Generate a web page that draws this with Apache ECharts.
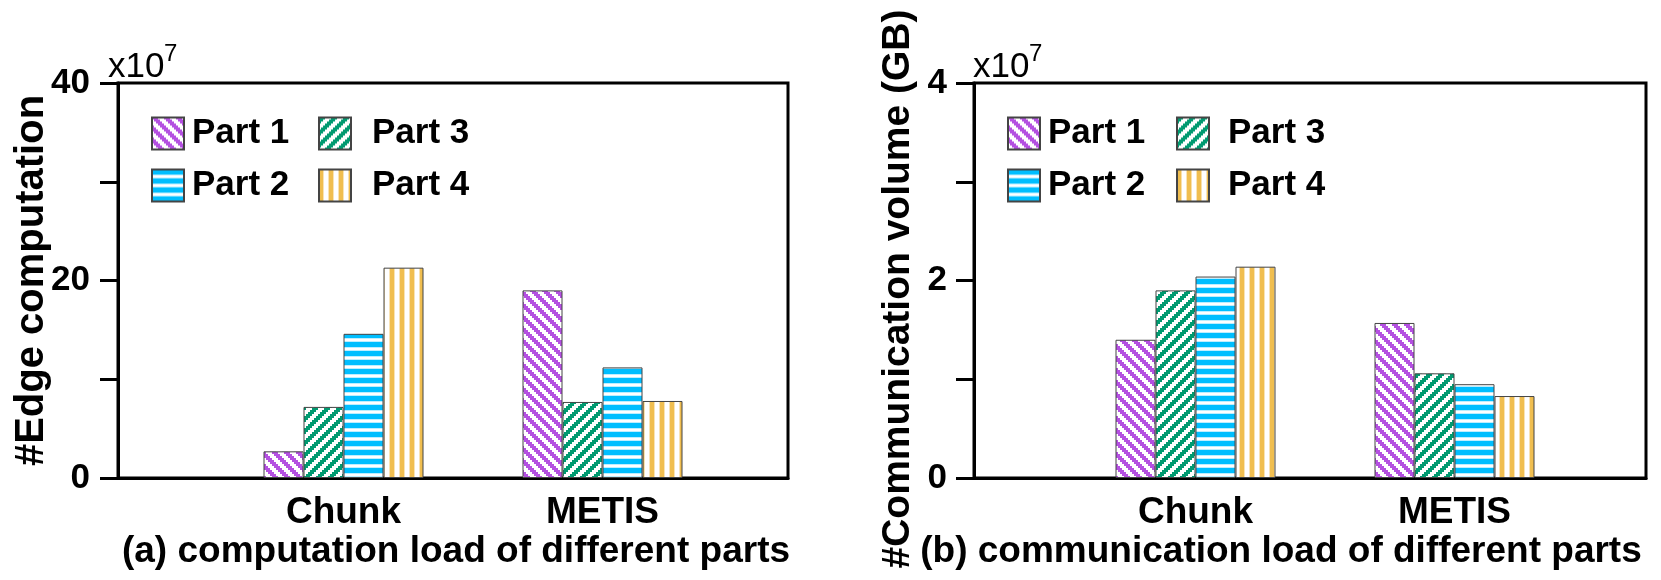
<!DOCTYPE html>
<html>
<head>
<meta charset="utf-8">
<script src="https://cdn.jsdelivr.net/npm/echarts@6/dist/echarts.min.js"></script>
<style>
  html, body { margin: 0; padding: 0; background: #fff; }
  #chart { width: 1661px; height: 580px; }
</style>
</head>
<body>
<div id="chart"></div>
<script>
// categories and series (order of the bars inside a group)
const categories = ['Chunk', 'METIS'];
const partNames = ['Part 1', 'Part 3', 'Part 2', 'Part 4'];

// (a) edge computation, x10^7
const compPart1 = [2.7, 19.0];
const compPart3 = [7.2, 7.7];
const compPart2 = [14.6, 11.2];
const compPart4 = [21.3, 7.8];

// (b) communication volume (GB), x10^7
const commPart1 = [1.40, 1.57];
const commPart3 = [1.90, 1.06];
const commPart2 = [2.04, 0.95];
const commPart4 = [2.14, 0.83];

// labelled y ticks
const compTicks = [0, 20, 40];
const commTicks = [0, 2, 4];

const FONT = '"Liberation Sans", Arial, Helvetica, sans-serif';

function makePattern(kind, color, light) {
  const c = document.createElement('canvas');
  const ctx = c.getContext('2d');
  if (kind === 'down' || kind === 'up') {
    const cell = 2, n = 6, p = cell * n;
    c.width = p; c.height = p;
    ctx.fillStyle = '#fff';
    ctx.fillRect(0, 0, p, p);
    ctx.fillStyle = color;
    for (let j = 0; j < n; j++) {
      for (let i = 0; i < n; i++) {
        const d = kind === 'down' ? (i - j + n) % n : (i + j) % n;
        if (d < n / 2) ctx.fillRect(i * cell, j * cell, cell, cell);
      }
    }
  } else if (kind === 'hor') {
    c.width = 4; c.height = 9;
    ctx.fillStyle = '#fff'; ctx.fillRect(0, 0, 4, 9);
    ctx.fillStyle = color; ctx.fillRect(0, 0, 4, 5);
    ctx.fillStyle = light; ctx.fillRect(0, 5, 4, 1); ctx.fillRect(0, 8, 4, 1);
  } else {
    c.width = 10; c.height = 4;
    ctx.fillStyle = '#fff'; ctx.fillRect(0, 0, 10, 4);
    ctx.fillStyle = color; ctx.fillRect(0, 0, 4, 4);
    ctx.fillStyle = light; ctx.fillRect(4, 0, 1, 4); ctx.fillRect(9, 0, 1, 4);
  }
  return { image: c, repeat: 'repeat' };
}

const fills = [
  makePattern('down', '#B450E1'),
  makePattern('up', '#009A70'),
  makePattern('hor', '#00BEFF', '#BDEEFF'),
  makePattern('ver', '#F0BE50', '#F9E3B4')
];

const compData = [compPart1, compPart3, compPart2, compPart4];
const commData = [commPart1, commPart3, commPart2, commPart4];

function frameAxes(gridIndex, max, ticks, name, nameGap, nameSize, namePad, labelMargin) {
  return {
    x: {
      gridIndex, type: 'value', min: 0, max: 1,
      axisLine: { show: true, lineStyle: { color: '#000', width: 3 } },
      axisTick: { show: false }, axisLabel: { show: false }, splitLine: { show: false }
    },
    y: {
      gridIndex, type: 'value', min: 0, max, interval: max / 4,
      name, nameLocation: 'middle', nameGap, nameRotate: 90,
      nameMoveOverlap: false,
      nameTextStyle: { fontFamily: FONT, fontWeight: 'bold', fontSize: nameSize, color: '#000', padding: namePad },
      axisLine: { show: true, lineStyle: { color: '#000', width: 3 } },
      axisTick: { show: true, inside: false, length: 18, lineStyle: { color: '#000', width: 3 } },
      axisLabel: {
        margin: labelMargin, fontFamily: FONT, fontWeight: 'bold', fontSize: 35, color: '#000',
        formatter: v => (ticks.indexOf(v) >= 0 ? String(v) : '')
      },
      splitLine: { show: false }
    }
  };
}

function barAxes(gridIndex, max) {
  return {
    x: {
      gridIndex, type: 'category', data: categories,
      axisLine: { show: false }, axisTick: { show: false },
      axisLabel: { margin: 16, fontFamily: FONT, fontWeight: 'bold', fontSize: 37, color: '#000' }
    },
    y: { gridIndex, type: 'value', min: 0, max, show: false }
  };
}

const fL = frameAxes(0, 40, compTicks, '#Edge computation', 66, 40, [0, 0, 0, 0], 28);
const bL = barAxes(1, 40);
const fR = frameAxes(2, 4, commTicks, '#Communication volume (GB)', 56, 39, [0, 17, 0, 0], 27);
const bR = barAxes(3, 4);

function barSeries(data, axisIndex) {
  return data.map((vals, i) => ({
    name: partNames[i],
    type: 'bar',
    xAxisIndex: axisIndex, yAxisIndex: axisIndex,
    data: vals,
    barWidth: 40,
    barGap: '0%',
    itemStyle: { color: fills[i], borderColor: '#444', borderWidth: 1 },
    emphasis: { disabled: true }
  }));
}

// one legend per column: [Part 1, Part 2] and [Part 3, Part 4]
function legendCol(names, left, textGap) {
  return {
    data: names,
    orient: 'vertical',
    left, top: 116, padding: 0,
    itemWidth: 32, itemHeight: 32, itemGap: 17,
    icon: 'rect',
    textStyle: { fontFamily: FONT, fontWeight: 'bold', fontSize: 35, color: '#000', padding: [0, 0, 0, textGap] }
  };
}

function expLabel(x) {
  return [
    { type: 'text', x: x, y: 50, style: { text: 'x10', font: '35px ' + FONT, fill: '#000' } },
    { type: 'text', x: x + 56, y: 42, style: { text: '7', font: '24px ' + FONT, fill: '#000' } }
  ];
}

const chart = echarts.init(document.getElementById('chart'));
chart.setOption({
  animation: false,
  backgroundColor: '#fff',
  grid: [
    { left: 118, right: 873, top: 83, bottom: 102, show: true, borderColor: '#000', borderWidth: 3 },
    { left: 214, width: 518, top: 83, bottom: 102 },
    { left: 974, right: 15, top: 83, bottom: 102, show: true, borderColor: '#000', borderWidth: 3 },
    { left: 1066, width: 518, top: 83, bottom: 102 }
  ],
  xAxis: [fL.x, bL.x, fR.x, bR.x],
  yAxis: [fL.y, bL.y, fR.y, bR.y],
  legend: [
    legendCol(['Part 1', 'Part 2'], 151, 3),
    legendCol(['Part 3', 'Part 4'], 318, 16),
    legendCol(['Part 1', 'Part 2'], 1007, 3),
    legendCol(['Part 3', 'Part 4'], 1176, 14)
  ],
  series: [...barSeries(compData, 1), ...barSeries(commData, 3)],
  graphic: [
    ...expLabel(108),
    ...expLabel(973),
    {
      type: 'text', x: 456, y: 552,
      style: { text: '(a) computation load of different parts', font: 'bold 37px ' + FONT, fill: '#000', align: 'center', verticalAlign: 'middle' }
    },
    {
      type: 'text', x: 1281, y: 552,
      style: { text: '(b) communication load of different parts', font: 'bold 37px ' + FONT, fill: '#000', align: 'center', verticalAlign: 'middle' }
    }
  ]
});
</script>
</body>
</html>
